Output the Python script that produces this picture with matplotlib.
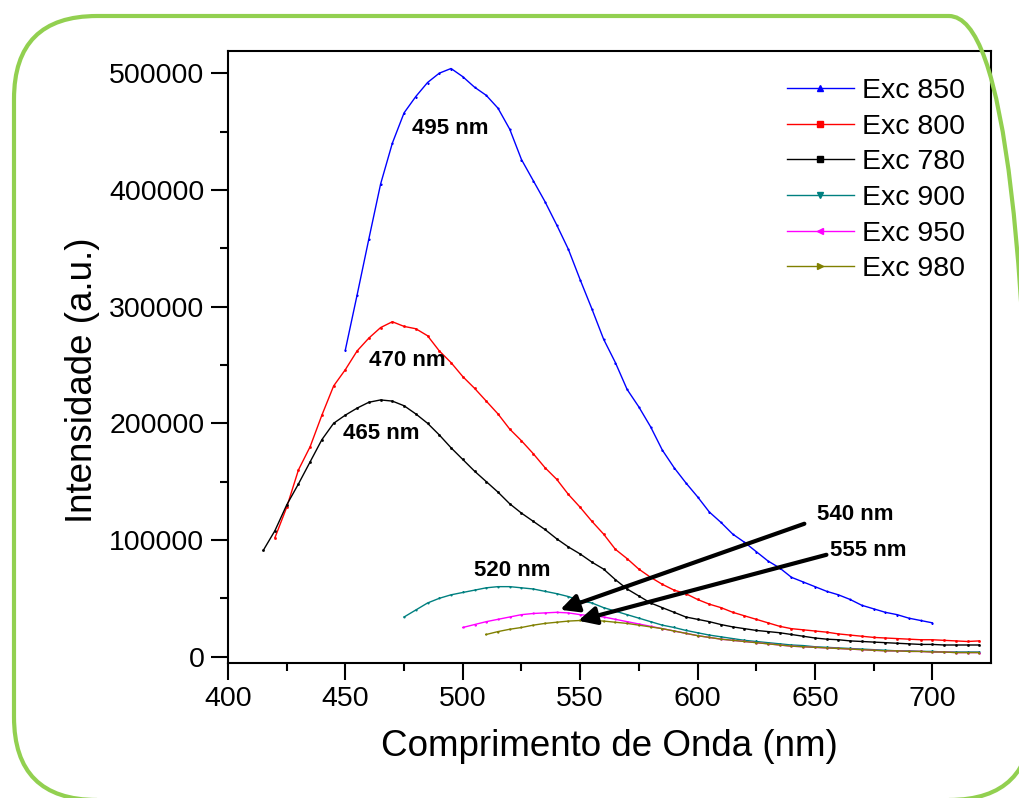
import numpy as np
import matplotlib
matplotlib.use("Agg")
import matplotlib.pyplot as plt
from matplotlib.patches import FancyBboxPatch

plt.rcParams['font.family'] = ['Liberation Sans', 'DejaVu Sans']
plt.rcParams['savefig.bbox'] = 'standard'

# dados (comprimento de onda em nm, intensidade em u.a.)
wl_850 = np.arange(450, 701, 5)
exc_850 = [263000, 310000, 358000, 405000, 440000, 466000, 480000, 492000, 500000, 504000,
           497000, 488000, 481000, 470000, 452000, 426000, 408000, 390000, 370000, 349000,
           323000, 298000, 272000, 252000, 229000, 214000, 197000, 177000, 162000, 149000,
           137000, 124000, 115000, 105000, 98000, 90000, 82000, 76000, 68000, 64000,
           60000, 56000, 53000, 49000, 44000, 41000, 38000, 36000, 33000, 31000, 29000]

wl_800 = np.arange(420, 721, 5)
exc_800 = [102000, 128000, 160000, 180000, 207000, 232000, 246000, 262000, 273000, 282000,
           287000, 283000, 281000, 275000, 262000, 252000, 240000, 230000, 219000, 208000,
           195000, 185000, 174000, 162000, 152000, 139000, 128000, 116000, 105000, 92000,
           84000, 75000, 68000, 62000, 57000, 54000, 49000, 45000, 42000, 38000,
           35000, 32000, 29000, 26000, 24000, 23000, 22000, 21000, 19500, 18500,
           17500, 16500, 16000, 15500, 15000, 14500, 14500, 14000, 13500, 13000, 13500]

wl_780 = np.arange(415, 721, 5)
exc_780 = [91000, 108000, 130000, 148000, 167000, 186000, 200000, 207000, 213000, 218000,
           220000, 219000, 215000, 208000, 200000, 190000, 179000, 169000, 159000, 150000,
           141000, 131000, 123000, 116000, 109000, 101000, 94000, 88000, 81000, 75000,
           66000, 58000, 52000, 46000, 42000, 38000, 34000, 32000, 30000, 27500,
           25500, 24000, 22500, 21500, 20500, 19000, 17500, 16000, 15000, 14500,
           13500, 13000, 12500, 12000, 11500, 11000, 10500, 10500, 10000, 10000, 10000, 10000]

wl_900 = np.arange(475, 721, 5)
exc_900 = [34000, 40000, 46000, 50000, 53000, 55000, 57000, 59000, 60000, 60000,
           59000, 58000, 56000, 54000, 51500, 48000, 46000, 42000, 39000, 36000,
           33000, 30000, 27000, 25000, 22500, 20500, 18500, 17000, 15500, 14000,
           13000, 12000, 11000, 10000, 9500, 8500, 8000, 7500, 7000, 6500,
           6000, 5500, 5000, 5000, 4500, 4500, 4000, 4000, 4000, 4000]

wl_950 = np.arange(500, 721, 5)
exc_950 = [25000, 27500, 30000, 32000, 34000, 36000, 37000, 37500, 38000, 37500,
           36000, 35000, 34000, 32000, 30000, 28000, 26000, 24000, 22000, 20000,
           18000, 16500, 15000, 14000, 13000, 12000, 11000, 10000, 9000, 8500,
           8000, 7500, 7000, 6500, 6000, 5500, 5000, 5000, 4500, 4500,
           4000, 4000, 3500, 3500, 3500]

wl_980 = np.arange(510, 721, 5)
exc_980 = [19000, 21500, 23500, 25000, 27000, 28500, 29500, 30500, 31000, 31000,
           30500, 29500, 28500, 27000, 25500, 24000, 22000, 20000, 18000, 16500,
           15000, 14000, 13000, 12000, 11000, 10000, 9000, 8500, 8000, 7500,
           7000, 6500, 6000, 5500, 5000, 5000, 4500, 4500, 4000, 4000,
           3500, 3500, 3500]

series = [
    (wl_850, exc_850, 'Exc 850', '#0000FF', '^'),
    (wl_800, exc_800, 'Exc 800', '#FF0000', 's'),
    (wl_780, exc_780, 'Exc 780', '#000000', 's'),
    (wl_900, exc_900, 'Exc 900', '#008080', 'v'),
    (wl_950, exc_950, 'Exc 950', '#FF00FF', '<'),
    (wl_980, exc_980, 'Exc 980', '#808000', '>'),
]

fig = plt.figure(figsize=(10.19, 7.98), dpi=100)
ax = fig.add_axes([228 / 1019, 1 - 662.5 / 798, (991 - 228) / 1019, (662.5 - 51) / 798])

for x, y, lab, c, m in series:
    ax.plot(x, y, color=c, lw=1.0, marker=m, markersize=0.9, label=lab)

ax.set_xlim(400, 725)
ax.set_ylim(-5000, 519000)
ax.set_xticks(np.arange(400, 701, 50))
ax.set_xticks(np.arange(425, 725, 50), minor=True)
ax.set_yticks(np.arange(0, 500001, 100000))
ax.set_yticks(np.arange(50000, 500000, 100000), minor=True)
ax.tick_params(which='major', direction='out', length=12, width=1.5, labelsize=20.5, pad=5)
ax.tick_params(which='minor', direction='out', length=6, width=1.5)
for s in ax.spines.values():
    s.set_linewidth(1.5)

# rótulos dos eixos
fig.text(609 / 1019, 1 - 747 / 798, 'Comprimento de Onda (nm)', fontsize=26.5,
         ha='center', va='center')
fig.text(82 / 1019, 1 - 380 / 798, 'Intensidade (a.u.)', fontsize=26.5,
         rotation=90, ha='center', va='center')

# picos
ax.text(494.6, 452900, '495 nm', fontsize=16, fontweight='bold', ha='center', va='center')
ax.text(476.3, 253400, '470 nm', fontsize=16, fontweight='bold', ha='center', va='center')
ax.text(465.2, 190900, '465 nm', fontsize=16, fontweight='bold', ha='center', va='center')
ax.text(521.1, 73600, '520 nm', fontsize=16, fontweight='bold', ha='center', va='center')
ax.text(667.3, 121600, '540 nm', fontsize=16, fontweight='bold', ha='center', va='center')
ax.text(672.8, 90750, '555 nm', fontsize=16, fontweight='bold', ha='center', va='center')

arrow = dict(arrowstyle='-|>,head_length=0.6,head_width=0.3', lw=3, color='black',
             mutation_scale=18, shrinkA=0, shrinkB=0)
ax.annotate('', xy=(541.5, 40200), xytext=(645.5, 113900), arrowprops=arrow)
ax.annotate('', xy=(549.2, 30800), xytext=(654.9, 87300), arrowprops=arrow)

leg = ax.legend(loc='upper left', bbox_to_anchor=(787 / 1019, 1 - 78 / 798),
                bbox_transform=fig.transFigure, frameon=False, fontsize=20.5,
                borderpad=0, borderaxespad=0, handlelength=2.35, handletextpad=0.3,
                labelspacing=0.34, markerscale=5)

# moldura verde arredondada (sai um pouco da figura à direita e em baixo)
border = FancyBboxPatch((0.14, -0.02), 10.18, 7.84,
                        boxstyle='round,pad=0,rounding_size=0.83',
                        transform=fig.dpi_scale_trans, fill=False,
                        edgecolor='#92D050', lw=3, clip_on=False)
border.set_in_layout(False)
fig.add_artist(border)

fig.savefig('out.png', dpi=100)
